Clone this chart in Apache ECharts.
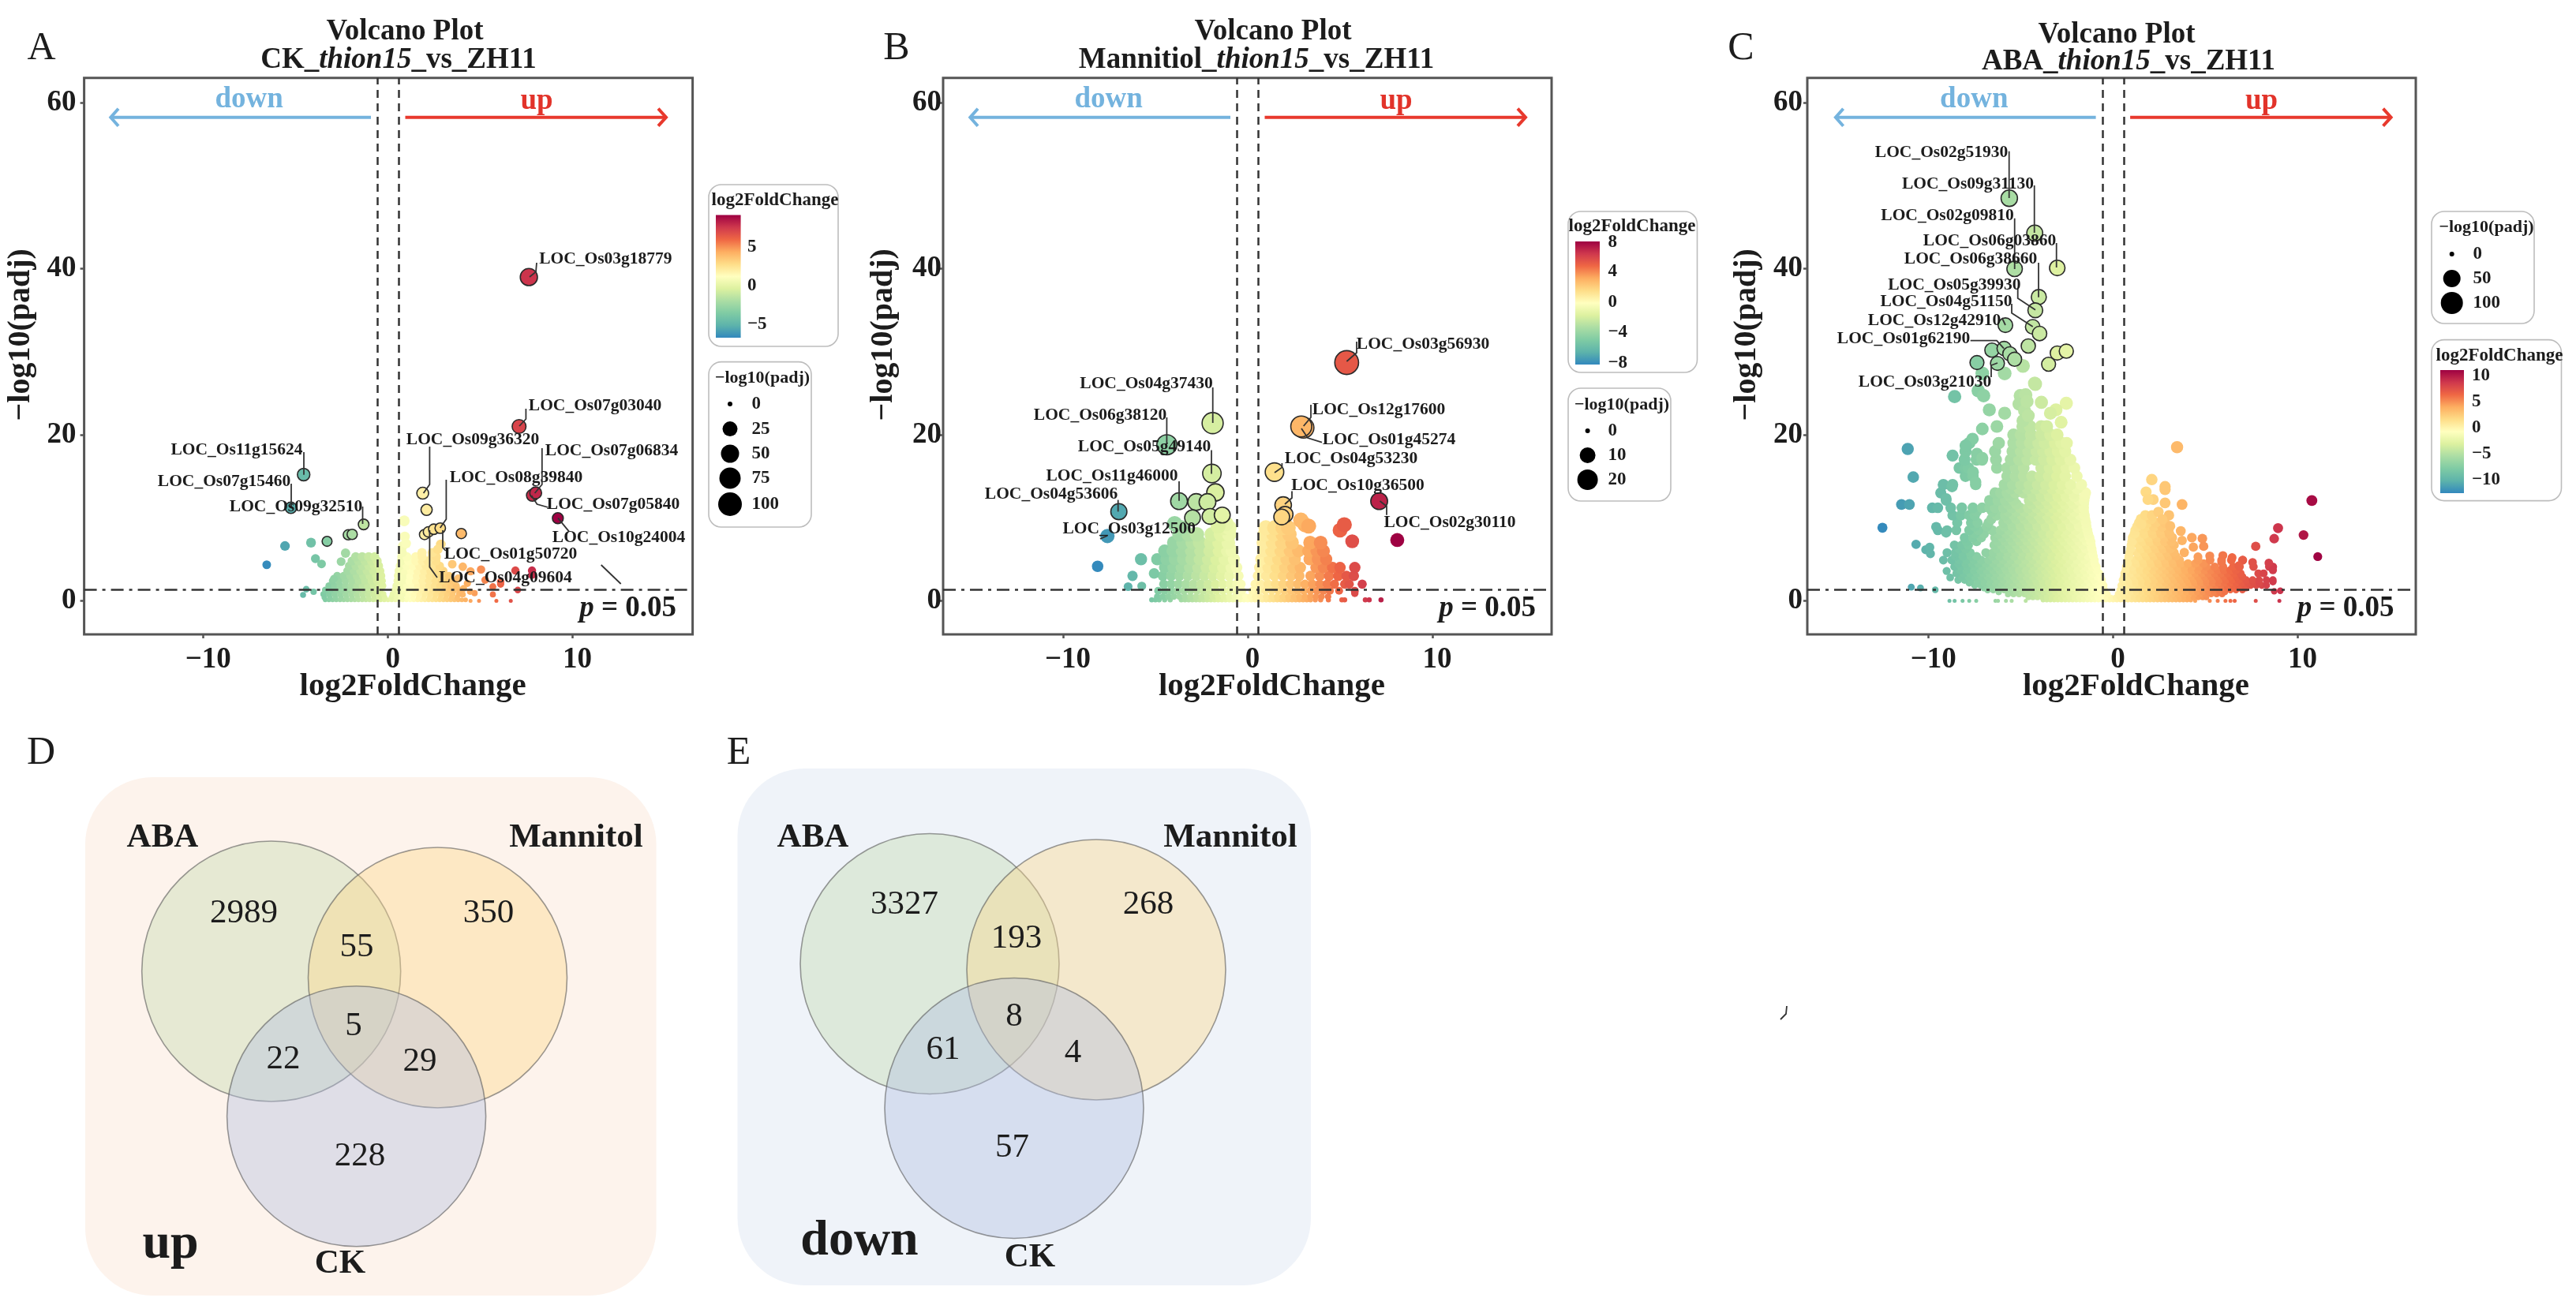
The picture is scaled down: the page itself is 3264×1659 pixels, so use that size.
<!DOCTYPE html>
<html><head><meta charset="utf-8">
<style>html,body{margin:0;padding:0;background:#fff}#c{width:3264px;height:1659px;filter:blur(0.6px)}</style>
<script src="https://cdn.jsdelivr.net/npm/echarts@6/dist/echarts.min.js"></script>
</head><body><div id="c"></div>
<script>
// ---------- Panel A: CK_thion15_vs_ZH11 ----------
const aRows = [
 [0.1,[-3.4,-3.2,-3,-2.8,-2.6,-2.4,-2.2,-2,-1.8,-1.6,-1.4,-1.2,-1,-.8,-.6,-.4,-.2,0,.2,.4,.6,.8,1,1.2,1.4,1.6,1.8,2,2.2,2.4,2.6,2.8,3,3.2,3.4,3.6,3.8,4,4.2]],
 [0.4,[-3.45,-3.15,-2.85,-2.55,-2.25,-1.95,-1.65,-1.35,-1.05,-.75,-.45,-.18,.18,.45,.75,1.05,1.35,1.65,1.95,2.25,2.55,2.85,3.15,3.45,3.75]],
 [0.8,[-3.5,-3.2,-2.9,-2.6,-2.3,-2,-1.7,-1.4,-1.1,-.8,-.5,-.25,.25,.5,.8,1.1,1.4,1.7,2,2.3,2.6,2.9,3.2,3.5,3.85]],
 [1.3,[-3.4,-3.1,-2.8,-2.5,-2.2,-1.9,-1.6,-1.3,-1,-.7,-.42,.36,.6,.9,1.2,1.5,1.8,2.1,2.4,2.7,3,3.3,3.6,3.9]],
 [1.8,[-3.2,-2.9,-2.6,-2.3,-2,-1.7,-1.4,-1.1,-.8,-.5,-.28,.43,.7,1,1.3,1.6,1.9,2.2,2.5,2.8,3.1,3.4,3.7]],
 [2.4,[-3,-2.65,-2.3,-1.95,-1.6,-1.25,-.9,-.6,-.32,.5,.8,1.15,1.5,1.85,2.2,2.55,2.9,3.25,3.5]],
 [3,[-2.75,-2.4,-2.05,-1.7,-1.35,-1,-.65,-.36,.53,.85,1.2,1.55,1.9,2.25,2.6,2.95,3.3]],
 [3.6,[-2.2,-1.85,-1.5,-1.15,-.8,-.42,.58,.9,1.25,1.6,1.95,2.3,2.65,3]],
 [4.2,[-2.1,-1.75,-1.4,-1.05,-.75,-.5,.65,1,1.35,1.7,2.05,2.4,2.8]],
 [4.8,[-1.95,-1.6,-1.25,-.9,-.58,.72,1.1,1.5,1.85,2.15,2.6]],
 [5.3,[-1.75,-1.4,-1.05,-.72,.75,1.02,1.5,1.85,2.4,2.62]],
];
const aExtra = [[-4.17,7],[-5.58,6.6],[-6.57,4.34],[-3.93,5.07],[-3.6,4.44],[-2.3,5.74],[-2.54,4.72],[-4.43,1.4],[-4.03,1.08],[-4.6,.7],[-2.93,2.66],
 [.88,9.63],[.91,7.73],[.8,6.6],[.98,6.9],[.77,5.8],[1.84,5.8],[2.4,5.8],[2.86,6.8],[2.7,6.2],[3.48,4.4],[4.05,4.1],[5.04,3.77],[4.47,3.55],[6.9,3.64],[7.8,3.64],[7.8,3.1],[5.68,1.7],[6.1,2],[6.1,2.3],[5.26,2.5],[5.68,.76],[4.69,.92],[4.05,.76],[4.93,0],[4.47,0],[5.87,0],[6.65,0],[7.03,1.3],[4.45,1.1],[4.1,1.5],[4.3,2.1],[3.8,2.7]];
const aMarked = [[7.63,39],[7.1,21],[-4.57,15.2],[-5.26,11.2],[-1.32,9.2],[-2.15,7.95],[-1.94,8],[-3.3,7.16],[1.88,12.96],[2.09,10.96],[1.98,7.98],[2.19,8.3],[2.48,8.62],[2.83,8.75],[3.97,8.1],[7.82,12.7],[8,13],[9.2,9.95]];

// ---------- Panel B: Mannitiol_thion15_vs_ZH11 ----------
const bRows = [
 [0.1,[-5.2,-5,-4.8,-4.5,-4.2,-3.6,-3.4,-3.2,-3,-2.8,-2.6,-2.4,-2.2,-2,-1.8,-1.6,-1.4,-1.2,-1,-.8,-.6,-.4,-.2,0,.2,.4,.6,.8,1,1.2,1.4,1.6,1.8,2,2.2,2.4,2.6,2.8,3,3.2,3.4,3.66,3.95,4.37,5.1,5.25,6.37,6.58,7.22]],
 [0.5,[-4.9,-4.6,-4.3,-4,-3.7,-3.4,-3.1,-2.8,-2.5,-2.2,-1.9,-1.6,-1.3,-1,-.7,-.4,-.12,.14,.4,.7,1,1.3,1.6,1.9,2.2,2.5,2.8,3.1,3.4,3.7,4,4.35]],
 [1.2,[-4.85,-4.5,-4.15,-3.8,-3.45,-3.1,-2.75,-2.4,-2.05,-1.7,-1.35,-1,-.65,-.3,.25,.6,.95,1.3,1.65,2,2.35,2.7,3.05,3.4,3.75,4.1,4.45,4.95,5.8]],
 [2,[-4.55,-4.15,-3.75,-3.35,-2.95,-2.55,-2.15,-1.75,-1.35,-.95,-.6,-.36,.4,.7,1.1,1.5,1.9,2.3,2.7,3.1,3.5,3.9,4.3,4.7,5.25,5.5,6.2]],
 [3,[-4.6,-4.15,-3.7,-3.25,-2.8,-2.35,-1.9,-1.45,-1,-.5,.55,1,1.45,1.9,2.35,2.8,3.4,3.9,4.4,4.9,5.35,5.75]],
 [4,[-4.5,-4.05,-3.6,-3.15,-2.7,-2.25,-1.8,-1.35,-.9,-.6,.65,1.1,1.55,2,2.45,2.85,3.7,4.1,4.6,5,5.8]],
 [5,[-4.9,-4.4,-3.95,-3.5,-3.05,-2.6,-2.15,-1.7,-1.25,-.75,.74,1.2,1.65,2.1,2.55,3.35,3.8,4.25]],
 [6,[-4.5,-4.05,-3.55,-3.05,-2.55,-2.05,-1.55,-1.1,-.85,.85,1.3,1.8,2.3,2.75,3.3,3.75,4.1]],
 [7,[-4,-3.5,-3,-2.6,-2,-1.55,-1.05,.85,1.35,1.85,2.4,3.38,3.95]],
 [8,[-3.7,-3.2,-2.75,-1.95,-1.45,-1,.92,1.4,1.9,2.26]],
 [8.8,[-1.3,-1,.98,1.45,1.9,2.2]],
];
const bExtra = [[-3.96,9.3],[-3.6,8.8],[-1.18,9.3],[-1.6,9],[-7.6,7.8],[8.1,7.32],[-8.13,4.15],[-5.78,5],[-6.24,3],[-5.07,3.3],[-6.48,1.7],[-5.74,1.77],[5,8.5],[5.23,9.16],[5.66,7.16],[3.1,9.16],[2.88,9.7],[3.3,9],[5.8,.9]];
const bMarked = [[5.36,28.7],[-1.9,21.4],[-4.38,18.8],[3.02,20.85],[2.9,21],[-1.94,15.34],[-1.75,13.05],[1.45,15.5],[-6.98,10.74],[-3.72,12],[-2.79,11.9],[-2.18,11.9],[-2.99,10],[-2.04,10.17],[-1.38,10.33],[1.92,11.53],[2.02,10.4],[1.84,10.1],[7.12,12]];

// ---------- Panel C: ABA_thion15_vs_ZH11 ----------
const cRows = [
 [0.08,[-3.8,-3.6,-3.4,-3.2,-3,-2.8,-2.6,-2.4,-2.2,-2,-1.8,-1.6,-1.4,-1.2,-1,-.8,-.6,-.4,-.2,0,.2,.4,.6,.8,1,1.2,1.4,1.6,1.8,2,2.2,2.4,2.6,2.8,3,3.2,3.4,3.6,3.8,4,4.2]],
 [0.4,[-4.6,-4.35,-4.1,-3.85,-3.6,-3.35,-3.1,-2.85,-2.6,-2.35,-2.1,-1.85,-1.6,-1.35,-1.1,-.85,-.6,-.35,-.12,.12,.35,.6,.85,1.1,1.35,1.6,1.85,2.1,2.35,2.6,2.85,3.1,3.35,3.6,3.85,4.1,4.35,4.6,4.85,5.05]],
 [0.8,[-5.7,-5.4,-5.1,-4.8,-4.5,-4.2,-3.9,-3.6,-3.3,-3,-2.7,-2.4,-2.1,-1.8,-1.5,-1.2,-.9,-.6,-.3,.25,.5,.8,1.1,1.4,1.7,2,2.3,2.6,2.9,3.2,3.5,3.8,4.1,4.4,4.7,5,5.3,5.6,5.9]],
 [1.05,[-6.2,-5.55,-5.25,-4.95,-4.65,-4.35,-4.05,-3.75,-3.45,-3.15,-2.85,-2.55,-2.25,-1.95,-1.65,-1.35,-1.05,-.75,-.42,.4,.65,.95,1.25,1.55,1.85,2.15,2.45,2.75,3.05,3.35,3.65,3.95,4.25,4.55,4.85,5.15,5.45,5.75,6.05]],
 [1.3,[-6.8,-6.5,-6.2,-5.9,-5.6,-5.3,-5,-4.7,-4.4,-4.1,-3.8,-3.5,-3.2,-2.9,-2.6,-2.3,-2,-1.7,-1.4,-1.1,-.8,-.45,.35,.65,.95,1.25,1.55,1.85,2.15,2.45,2.75,3.05,3.35,3.65,3.95,4.25,4.55,4.85,5.15,5.45,5.75,6.05,6.35,6.65,7]],
 [1.55,[-7,-6.65,-6.35,-6.05,-5.75,-5.45,-5.15,-4.85,-4.55,-4.25,-3.95,-3.65,-3.35,-3.05,-2.75,-2.45,-2.15,-1.85,-1.55,-1.25,-.95,-.65,.5,.8,1.1,1.4,1.7,2,2.3,2.6,2.9,3.2,3.5,3.8,4.1,4.4,4.7,5,5.3,5.6,5.9,6.2,6.5,6.8,7.2]],
 [1.85,[-7.5,-7.18,-6.86,-6.54,-6.22,-5.9,-5.58,-5.26,-4.94,-4.62,-4.3,-3.98,-3.66,-3.34,-3.02,-2.7,-2.38,-2.06,-1.74,-1.42,-1.1,-.78,-.5,.42,.74,1.06,1.38,1.7,2.02,2.34,2.66,2.98,3.3,3.62,3.94,4.26,4.58,4.9,5.22,5.54,5.86,6.18,6.5,6.82,7.14,7.45,7.75,8.05,8.3]],
 [2.15,[-7.8,-7.35,-7,-6.7,-6.38,-6.06,-5.74,-5.42,-5.1,-4.78,-4.46,-4.14,-3.82,-3.5,-3.18,-2.86,-2.54,-2.22,-1.9,-1.58,-1.26,-.94,-.58,.6,.9,1.22,1.54,1.86,2.18,2.5,2.82,3.14,3.46,3.78,4.1,4.42,4.74,5.06,5.38,5.7,6.02,6.34,6.66,6.98,7.3,7.6,7.9]],
 [2.5,[-8.4,-8.05,-7.7,-7.35,-7,-6.65,-6.3,-5.95,-5.6,-5.25,-4.9,-4.55,-4.2,-3.85,-3.5,-3.15,-2.8,-2.45,-2.1,-1.75,-1.4,-1.05,-.6,.5,.85,1.2,1.55,1.9,2.25,2.6,2.95,3.3,3.65,4,4.35,4.7,5.05,5.4,5.75,6.1,6.45,6.8,7.2,7.55,7.9,8.3,8.65]],
 [2.9,[-8.2,-7.85,-7.5,-7.15,-6.8,-6.45,-6.1,-5.75,-5.4,-5.05,-4.7,-4.35,-4,-3.65,-3.3,-2.95,-2.6,-2.25,-1.9,-1.55,-1.2,-.85,-.68,.58,.75,1.1,1.45,1.8,2.15,2.5,2.85,3.2,3.55,3.9,4.25,4.6,4.95,5.3,5.65,6,6.35,6.7,7]],
 [3.3,[-8.5,-8.1,-7.75,-7.4,-7.05,-6.7,-6.35,-6,-5.65,-5.3,-4.95,-4.6,-4.25,-3.9,-3.55,-3.2,-2.85,-2.5,-2.15,-1.8,-1.45,-1.1,-.75,.6,.95,1.3,1.65,2,2.35,2.7,3.05,3.4,3.75,4.1,4.45,4.8,5.15,5.5,5.85,6.2,6.55,6.9,7.86,8.15]],
 [3.7,[-8.3,-7.95,-7.55,-7.2,-6.85,-6.5,-6.15,-5.8,-5.45,-5.1,-4.75,-4.4,-4.05,-3.7,-3.35,-3,-2.65,-2.3,-1.95,-1.6,-1.25,-.9,.68,1.1,1.45,1.8,2.15,2.5,2.85,3.2,3.55,3.9,4.25,4.6,4.95,5.3,5.65,6,6.35,6.65]],
 [4.1,[-8.6,-8.25,-7.9,-7.5,-7.1,-6.7,-6.3,-5.9,-5.5,-5.1,-4.7,-4.3,-3.9,-3.5,-3.1,-2.7,-2.3,-1.9,-1.5,-1.15,-.9,.7,1.05,1.45,1.85,2.25,2.65,3.05,3.45,3.85,4.25,4.65,5.05,5.5,5.95,6.5,6.85,7.6,8.45,8.65]],
 [4.5,[-8.4,-8,-7.65,-7.3,-6.9,-6.5,-6.1,-5.7,-5.3,-4.9,-4.5,-4.1,-3.7,-3.3,-2.9,-2.5,-2.1,-1.7,-1.35,-1,.78,1.25,1.65,2.05,2.45,2.85,3.25,3.65,4.05,4.45,4.9]],
 [4.9,[-9.2,-8.75,-8.35,-7.95,-7.55,-7.15,-6.75,-6.35,-5.95,-5.55,-5.15,-4.75,-4.35,-3.95,-3.55,-3.15,-2.75,-2.35,-1.95,-1.55,-1.02,.8,1.2,1.6,2,2.4,2.8,3.2,3.6,4.6,5.25,5.87,6.4,7.02]],
 [5.35,[-8.55,-8.15,-7.7,-7.4,-6.55,-6.15,-5.75,-5.35,-4.95,-4.55,-4.15,-3.75,-3.35,-2.95,-2.55,-2.15,-1.75,-1.35,-1.07,.85,1.4,1.8,2.2,2.6,3,3.4]],
 [5.8,[-9,-8.55,-8.15,-7.75,-6.9,-6.5,-6.1,-5.7,-5.3,-4.9,-4.5,-4.1,-3.7,-3.3,-2.9,-2.5,-2.1,-1.7,-1.12,.9,1.3,1.7,2.1,2.5,2.9,3.3,3.85]],
 [6.25,[-8.35,-8,-6.3,-5.9,-5.5,-5.1,-4.7,-4.3,-3.9,-3.5,-3.1,-2.7,-2.3,-1.9,-1.5,-1.15,.95,1.5,1.9,2.3,2.7,3.1]],
 [6.7,[-8.6,-8.2,-7.85,-6.45,-6.05,-5.65,-5.25,-4.85,-4.45,-4.05,-3.65,-3.25,-2.85,-2.45,-2.05,-1.65,-1.2,.98,1.4,1.8,2.2,2.6,3,3.3]],
 [7.15,[-7.95,-7.4,-6.25,-5.85,-5.45,-5.05,-4.65,-4.25,-3.85,-3.45,-3.05,-2.65,-2.25,-1.85,-1.45,-1.22,1.02,1.6,2,2.4,2.8,3.15]],
 [7.6,[-8.05,-7.6,-7.15,-6.4,-6,-5.6,-5.2,-4.8,-4.4,-4,-3.6,-3.2,-2.8,-2.4,-2,-1.6,-1.28,1.05,1.45,1.9,2.35,2.8,3.2]],
 [8.05,[-7.5,-7,-6.2,-5.8,-5.4,-5,-4.6,-4.2,-3.8,-3.4,-3,-2.6,-2.2,-1.8,-1.35,1.15,1.7,2.15,2.6,3.05]],
 [8.5,[-9.5,-9,-8.5,-7.8,-7.3,-6.55,-6.1,-5.65,-5.2,-4.75,-4.3,-3.85,-3.4,-2.95,-2.5,-2.05,-1.4,1.2,1.65,2.1,2.55,3]],
 [8.95,[-7.5,-6.85,-5.9,-5.45,-5,-4.55,-4.1,-3.65,-3.2,-2.75,-2.3,-1.85,-1.45,1.3,1.75,2.2,2.65]],
 [9.4,[-8.45,-7.7,-7.35,-6.75,-5.95,-5.5,-5.05,-4.6,-4.15,-3.7,-3.25,-2.8,-2.35,-1.9,-1.47,1.4,1.85,2.3,2.8]],
 [9.85,[-6.6,-5.7,-5.25,-4.8,-4.35,-3.9,-3.45,-3,-2.55,-2.1,-1.52,1.5,2.05]],
 [10.3,[-8.7,-8.25,-7.8,-7.5,-6.3,-5.85,-5.4,-4.95,-4.5,-4.05,-3.6,-3.15,-2.7,-2.25,-1.8,-1.55,1.74,2.1,3.02]],
 [10.75,[-7.4,-6.55,-5.7,-5.25,-4.8,-4.35,-3.9,-3.45,-3,-2.55,-2.1,-1.6]],
 [11.2,[-9.8,-9.5,-8.8,-8.2,-7.6,-7.1,-6.7,-6.4,-5.95,-5.5,-5.05,-4.6,-4.15,-3.7,-3.25,-2.8,-2.35,-1.9,-1.6]],
 [11.65,[-5.7,-5.25,-4.4,-3.95,-3.5,-3.05,-2.6,-2.15,-1.6]],
 [12.1,[-9.05,-6.7,-6.25,-5.85,-5.4,-4.55,-4.1,-3.65,-3.2,-2.75,-2.3,-1.85,-1.58]],
 [12.55,[-5.6,-4.35,-3.9,-3.45,-3,-2.55,-2.1,-1.55]],
 [13,[-9.34,-6.4,-6.1,-5.75,-5.3,-4.85,-4.4,-3.95,-3.5,-3.05,-2.6,-2.15,-1.5]],
 [13.5,[-5.55,-5.1,-4.65,-4.2,-3.75,-3.3,-2.85,-2.4,-1.95]],
 [14,[-9.2,-8.7,-7.45,-5.9,-5.45,-5,-4.55,-4.1,-3.65,-3.2,-2.75,-2.3,-1.72]],
 [15,[-8,-7.6,-5.75,-5.3,-4.85,-4.4,-3.95,-3.5,-3.05,-2.6,-1.97]],
 [16,[-8.33,-8,-7.85,-6.3,-5.75,-5.3,-4.85,-3.9,-3.45,-3,-2.55,-2.1]],
 [17,[-8.05,-7.4,-7.1,-6.35,-5.55,-5.1,-4.65,-4.2,-3.75,-3.3,-2.85,-2.32]],
 [18,[-8.0,-6.4,-5.45,-5,-4.6,-4.15,-3.8,-3.4,-3,-2.6]],
 [19,[-7.8,-6.2,-5.4,-4.95,-4.5,-4.05,-3.7,-3.15,-2.8,-2.52]],
 [20,[-5.4,-5,-4.45,-3.89,-3.4,-3.03]],
 [21,[-6.3,-4.9,-4.5,-3.9,-3.6]],
];
const cExtra = [[-5.88,27.4],[-4.89,28.3],[-4.22,26.1],[-8.59,24.6],[-7.31,25.3],[-7.09,27.4],[-7.02,24.7],[-6.71,23],[-5.88,22.6],[-7.09,20.7],[-7.62,19.5],[-7.99,18.7],[-8.7,17.5],[-7.38,17.7],[-7.09,17.2],[-7.59,15.5],[-7.45,14.3],[-8.73,13.75],[-9.05,12.3],[-11.13,18.3],[-10.83,14.9],[-11.47,11.6],[-11.04,11.6],[-12.5,8.8],[-10.68,6.8],[-10.15,6.15],[-9.94,6.45],[-9.9,5.67],[-9.02,3.6],[-8.83,2.8],[-10.94,1.65],[-10.44,1.55],[-9.64,1.33],[-9.59,8.9],[-9.05,8.2],
 [-8.87,0],[-8.59,0],[-8.16,0],[-7.8,0],[-7.42,0],[-6.38,0],[-6.24,0],[-5.81,0],[-5.5,0],[-4.74,0],
 [-5.03,24.7],[-4.74,24.8],[-5.1,23.7],[-4.8,22.9],[-4.67,24],[-3.89,23.9],[-4.25,26.2],[-2.54,23.8],[-3.1,23],[-2.82,21.5],[-3.4,22.6],[-4.89,21.7],[-4.6,22.3],
 [3.46,18.5],[2.09,14.6],[2.81,13.75],[2.81,13.4],[1.78,13.1],[2.81,11.8],[3.73,11.6],[2.17,12.2],[1.88,12.2],[2.45,10.7],[2.66,9.8],[1.52,9.2],[3.09,9],[3.66,8.4],[4.26,7.6],[4.83,7.5],[3.73,7.26],[4.34,6.46],[4.9,6.56],[3.85,5.83],[4.59,5.3],[5.23,5.4],[5.94,5.45],[6.44,5.2],[5.87,4.66],[7,4.88],[6.8,4.25],[7.55,4.63],[7.72,6.56],[8.72,7.48],[8.93,8.75],[10.31,7.92],[10.76,12.07],[11.08,5.32],[8.43,4.56],[8.65,3.7],[8.65,2.3],[8.72,1.14],[9.05,1.2],[9,0],[7.72,0],[6.58,0],[6.35,0],[6.08,0],[5.66,0],[5.23,0],[4.44,0]];
const cMarked = [[-5.63,48.5],[-4.25,44.3],[-3.03,40.1],[-5.34,40],[-4.03,36.6],[-4.22,35],[-5.84,33.2],[-4.36,33],[-3.99,32.2],[-4.6,30.7],[-6.57,30.2],[-5.91,30.4],[-5.6,29.75],[-5.34,29.1],[-7.38,28.7],[-6.27,28.6],[-3.5,28.5],[-3.03,29.85],[-2.54,30.07]];

// ---------- tick labels and legend values ----------
const xTicks = [-10,0,10];
const yTicks = [0,20,40,60];
const panelTitles = [['CK_','_vs_ZH11'],['Mannitiol_','_vs_ZH11'],['ABA_','_vs_ZH11']];
const colorTicks = [[-5,0,5],[-8,-4,0,4,8],[-10,-5,0,5,10]];
const sizeTicks = [[0,25,50,75,100],[0,10,20],[0,50,100]];
const colorRange = [[-6.7,9.1],[-8.2,8.1],[-12.6,11.2]];
const pThreshold = 1.3;
const fcThreshold = 0.585;

// ---------- gene annotation names ----------
const aGenes = ['LOC_Os03g18779','LOC_Os07g03040','LOC_Os09g36320','LOC_Os07g06834','LOC_Os11g15624','LOC_Os07g15460','LOC_Os08g39840','LOC_Os09g32510','LOC_Os07g05840','LOC_Os10g24004','LOC_Os01g50720','LOC_Os04g09604'];
const bGenes = ['LOC_Os03g56930','LOC_Os04g37430','LOC_Os12g17600','LOC_Os06g38120','LOC_Os01g45274','LOC_Os05g49140','LOC_Os04g53230','LOC_Os11g46000','LOC_Os10g36500','LOC_Os04g53606','LOC_Os02g30110','LOC_Os03g12500'];
const cGenes = ['LOC_Os02g51930','LOC_Os09g31130','LOC_Os02g09810','LOC_Os06g03860','LOC_Os06g38660','LOC_Os05g39930','LOC_Os04g51150','LOC_Os12g42910','LOC_Os01g62190','LOC_Os03g21030'];

// ---------- Venn counts ----------
const vennUp = [2989,350,55,5,22,29,228];
const vennDown = [3327,268,193,8,61,4,57];
const vennSets = ['ABA','Mannitol','CK'];

// ---------- layout & style (not data) ----------
const F='"Liberation Serif","Times New Roman",serif', INK='#1c1c1c', AX='#555';
const flat = rows => rows.flatMap(r => r[1].map(x => [x, r[0]]));
const minus = v => String(v).replace('-','\u2212');
const ramp = ['#3288BD','#5DB3AB','#7FCBA4','#ABDDA4','#DDF1A0','#FFFFBF','#FEDD88','#FDAE61','#EF6744','#CF384D','#9E0142'];
const sizeFn = [y=>5+3*Math.pow(Math.max(y,0),.47), y=>5+4.7*Math.sqrt(Math.max(y,0)), y=>5+3.1*Math.pow(Math.max(y,0),.42)];
const panels = [
 {left:106.6,xr:[-16.46,16.5], cloud:flat(aRows).concat(aExtra), marked:aMarked, lbl:10},
 {left:1195, xr:[-16.5,16.46], cloud:flat(bRows).concat(bExtra), marked:bMarked, lbl:2},
 {left:2290, xr:[-16.57,16.39],cloud:flat(cRows).concat(cExtra), marked:cMarked, lbl:6},
];
const TOP=98.7,W=771,H=705.3;
const grid=[],xAxis=[],yAxis=[],series=[],visualMap=[],title=[];
const titleCenters=[[508,36,500,72.4],[1608,36,1587,72.4],[2677,39.5,2692,74]];
panels.forEach((p,i)=>{
  grid.push({left:p.left,top:TOP,width:W,height:H,outerBoundsMode:'none',containLabel:false,show:true,borderColor:AX,borderWidth:3,backgroundColor:'transparent'});
  xAxis.push({type:'value',gridIndex:i,min:p.xr[0],max:p.xr[1],splitLine:{show:false},
    name:'log2FoldChange',nameLocation:'middle',nameGap:46,nameMoveOverlap:false,
    nameTextStyle:{fontFamily:F,fontWeight:'bold',fontSize:41,color:INK,padding:[0,0,0,62]},
    axisLine:{show:false,onZero:false},axisTick:{show:true,length:5,lineStyle:{color:AX,width:2.5},customValues:xTicks},
    axisLabel:{fontFamily:F,fontWeight:'bold',fontSize:37,color:INK,margin:14,padding:[0,0,0,12],customValues:xTicks,formatter:minus,showMinLabel:true,showMaxLabel:true}});
  yAxis.push({type:'value',gridIndex:i,min:-4.05,max:63,splitLine:{show:false},
    name:'\u2212log10(padj)',nameLocation:'middle',nameGap:[60,55,56.5][i],nameRotate:90,nameMoveOverlap:false,
    nameTextStyle:{fontFamily:F,fontWeight:'bold',fontSize:40,color:INK,padding:[0,0,0,54]},
    axisLine:{show:false,onZero:false},axisTick:{show:true,length:5,lineStyle:{color:AX,width:2.5},customValues:yTicks},
    axisLabel:{fontFamily:F,fontWeight:'bold',fontSize:37,color:INK,margin:p.lbl,customValues:yTicks,formatter:minus}});
  const base={type:'scatter',xAxisIndex:i,yAxisIndex:i,symbol:'circle',silent:true,animation:false,symbolSize:d=>sizeFn[i](d[1])};
  series.push(Object.assign({},base,{name:'genes'+i,data:p.cloud,z:2,itemStyle:{opacity:1}}));
  series.push(Object.assign({},base,{name:'labelled'+i,data:p.marked,z:3,itemStyle:{opacity:1,borderColor:'#2a2a2a',borderWidth:1.6},
    markLine:{silent:true,symbol:'none',z:6,animation:false,label:{show:false},data:[
      {xAxis:-fcThreshold,lineStyle:{type:[10,7],color:'#333',width:2.5}},
      {xAxis:fcThreshold,lineStyle:{type:[10,7],color:'#333',width:2.5}},
      {yAxis:pThreshold,lineStyle:{type:[16,7,4,7],color:'#333',width:2.5}}]}}));
  visualMap.push({show:false,type:'continuous',seriesIndex:[i*2,i*2+1],dimension:0,min:colorRange[i][0],max:colorRange[i][1],inRange:{color:ramp}});
  const c=titleCenters[i];
  title.push({text:'Volcano Plot',left:c[0],top:c[1]-19,textAlign:'center',textStyle:{fontFamily:F,fontWeight:'bold',fontSize:37,color:INK}});
  title.push({text:panelTitles[i][0]+'{it|thion15}'+panelTitles[i][1],left:c[2],top:c[3]-19,textAlign:'center',
    textStyle:{fontFamily:F,fontWeight:'bold',fontSize:37,color:INK,rich:{it:{fontFamily:F,fontStyle:'italic',fontWeight:'bold',fontSize:37,color:INK}}}});
});

// ---------- graphic annotations ----------
const g=[];
const txt=(text,x,y,size,opt={})=>g.push({type:'text',z:20,silent:true,style:Object.assign({text,x,y,font:`${opt.weight||'bold'} ${size}px ${F}`,fill:opt.fill||INK,textAlign:opt.align||'center',textVerticalAlign:'middle'},opt.style||{})});
const poly=(pts,color='#333',w=1.8)=>g.push({type:'polyline',z:19,silent:true,shape:{points:pts},style:{stroke:color,lineWidth:w,fill:'none'}});

// panel letters
[['A',52.6,62],['B',1136,62],['C',2206,62],['D',52,955],['E',936,955]].forEach(a=>txt(a[0],a[1],a[2],50,{weight:'normal'}));

// down / up arrows and p text
[0,1089,2185.6].forEach((dx,i)=>{
  const yA=148.7, blue='#74B3DE', red='#E8392D';
  poly([[470+dx,yA],[140.3+dx,yA]],blue,4);
  poly([[150+dx,yA-11],[140.3+dx,yA],[150+dx,yA+11]],blue,4);
  poly([[513.5+dx,yA],[844+dx,yA]],red,4);
  poly([[834+dx,yA-11],[844+dx,yA],[834+dx,yA+11]],red,4);
  txt('down',315.7+dx,126,37,{fill:'#74B3DE'});
  txt('up',680+dx,128,37,{fill:'#E2332A'});
  g.push({type:'text',z:20,silent:true,style:{text:'{i|p} = 0.05',x:857+dx-[0,0,9][i],y:771,textAlign:'right',textVerticalAlign:'middle',font:`bold 37px ${F}`,fill:INK,rich:{i:{font:`italic bold 37px ${F}`,fill:INK}}}});
});

// gene labels (pixel placement of the text) and leader lines
const aPos=[[767.4,328],[754,514.5],[599,557],[775,571.6],[300,570],[284,610],[654,605.6],[375,642],[777,639],[784,681],[647,702.7],[640.5,732]];
const bPos=[[1803,436.6],[1452.5,486],[1747,519],[1394,526],[1760,557],[1450,566.6],[1712,581.5],[1409,603.4],[1720.5,615.5],[1332,626.4],[1837,662.6],[1430.7,670]];
const cPos=[[2460,193],[2493.5,233.7],[2467.5,273],[2521,305.5],[2497,328.6],[2476.4,361],[2466,382],[2451,406],[2412,429.5],[2439,484]];
aGenes.forEach((t,i)=>txt(t,aPos[i][0],aPos[i][1],21.5));
bGenes.forEach((t,i)=>txt(t,bPos[i][0],bPos[i][1],21.5));
cGenes.forEach((t,i)=>txt(t,cPos[i][0],cPos[i][1],21.5));
[
 [[680,333],[679,344.5],[671,351]],[[666.4,518],[666.4,531],[658,540]],[[544.4,566],[544.4,614],[536.6,625]],[[686.8,568],[686.8,614],[677.6,625]],
 [[385,573],[385,601.8]],[[369,613],[369,643]],[[565.4,608],[565.4,658],[557.7,669]],[[459.5,642],[459.5,664]],[[673.4,628],[680.5,639],[694.5,643]],
 [[707,656.6],[721,673.6]],[[561,672],[561,694],[564.7,698]],[[544.4,672],[544.4,718.6],[554,732]],[[761.7,716],[786.7,740]],
 [[1719,433],[1719,447],[1706.4,458]],[[1536.7,491],[1536.7,536]],[[1661,513],[1661,529],[1651.7,540]],[[1478.4,529],[1478.4,563]],[[1675,560.6],[1657,555],[1649,543]],
 [[1535,570.5],[1535,600.6]],[[1624.4,587],[1624.4,592.4],[1615,599]],[[1494,610],[1494,634.7]],[[1637,622.6],[1637,631],[1628,639]],[[1416.7,633.6],[1416.7,648.4]],
 [[1757,652.8],[1757,641.8],[1748.5,635]],[[1394,683],[1403,679]],
 [[2545.7,191.7],[2545.7,251]],[[2577.7,235],[2577.7,295]],[[2552.7,276.7],[2552.7,341]],[[2605.7,308],[2605.7,339]],[[2583,333],[2583,376.7]],
 [[2556.7,365],[2556.7,378],[2579,392.7]],[[2549,385],[2549,396.7],[2575.7,414]],[[2536.7,403],[2541,412]],[[2496.7,431.7],[2530,431.7],[2539,441.7]],[[2523,478],[2523,463],[2531,460]],
 [[2264,1275],[2263,1285],[2256,1292]]
].forEach(p=>poly(p));

// legends
const box=(x,y,w,h)=>g.push({type:'rect',z:10,silent:true,shape:{x,y,width:w,height:h,r:16},style:{fill:'#fff',stroke:'#bdbdbd',lineWidth:1.6}});
const stops=ramp.map((c,i)=>({offset:i/(ramp.length-1),color:c}));
const colorLegend=(i,bx,by,bw,bh,tx,ty,bar,labX,labY)=>{
  box(bx,by,bw,bh);
  txt('log2FoldChange',tx,ty,23);
  g.push({type:'rect',z:11,silent:true,shape:{x:bar[0],y:bar[1],width:bar[2],height:bar[3]},style:{fill:new echarts.graphic.LinearGradient(0,1,0,0,stops)}});
  colorTicks[i].forEach((v,k)=>txt(minus(v),labX,labY[k],23,{align:'left'}));
};
const sizeLegend=(i,bx,by,bw,bh,tx,ty,dotX,labX,labY)=>{
  box(bx,by,bw,bh);
  txt('\u2212log10(padj)',tx,ty,22);
  sizeTicks[i].forEach((v,k)=>{
    const d=i==0?[6,19,23,27,30][k]:i==1?[6,20,26][k]:[6,22,28][k];
    g.push({type:'circle',z:11,silent:true,shape:{cx:dotX,cy:labY[k],r:d/2},style:{fill:'#000'}});
    txt(String(v),labX,labY[k],23,{align:'left'});
  });
};
colorLegend(0,898,234,164,205,982,254,[907,272.6,31.6,155.4],947,[411,362,313]);
sizeLegend(0,898,458.6,130,209.4,966,479,925,952.6,[512,543.6,575,606,639]);
colorLegend(1,1987,268,163.5,204,2068,287,[1996,306,31,156],2037.5,[460,421,383,344.5,307]);
sizeLegend(1,1987,492,130,143,2055,513,2011.6,2037.5,[546,577,608]);
sizeLegend(2,3081,268,130,142,3150.5,288,3106.7,3133.4,[322,353,384]);
colorLegend(2,3081,430.6,164.5,204,3167,451,[3092,469,30,156],3132,[608,575,542,509,476]);

// Venn panels
const venn=(bg,circles,counts,labels,word,bgColor)=>{
  g.push({type:'rect',z:1,silent:true,shape:{x:bg[0],y:bg[1],width:bg[2],height:bg[3],r:85},style:{fill:bgColor}});
  const fills=['rgba(195,218,176,.4)','rgba(253,215,138,.4)','rgba(178,190,226,.4)'];
  circles.forEach((c,k)=>g.push({type:'ellipse',z:2,silent:true,shape:{cx:c[0],cy:c[1],rx:164,ry:165},style:{fill:fills[k],stroke:'rgba(90,90,90,.6)',lineWidth:1.6}}));
  counts.forEach(c=>txt(String(c[0]),c[1],c[2],43,{weight:'normal'}));
  labels.forEach(c=>txt(c[0],c[1],c[2],43));
  txt(word[0],word[1],word[2],64);
};
venn([108,985,723.6,657],[[343.7,1231],[554.5,1239],[451.6,1414.8]],
  [[vennUp[0],309,1158],[vennUp[1],619,1158],[vennUp[2],452,1201],[vennUp[3],448,1301],[vennUp[4],359,1342.5],[vennUp[5],532,1345.6],[vennUp[6],456,1466]],
  [[vennSets[0],206,1062],[vennSets[1],730,1062],[vennSets[2],431,1602]],['up',216,1577],'#FDF3EC');
venn([934.5,974,726.5,655],[[1178,1221.5],[1389,1229],[1285,1404.5]],
  [[vennDown[0],1146,1147],[vennDown[1],1455,1147],[vennDown[2],1288,1190],[vennDown[3],1285,1289],[vennDown[4],1195,1331],[vennDown[5],1359.5,1335],[vennDown[6],1282.5,1455]],
  [[vennSets[0],1030,1062],[vennSets[1],1559,1062],[vennSets[2],1305,1594]],['down',1089,1573],'#EFF3F9');

const chart=echarts.init(document.getElementById('c'),null,{renderer:'canvas',width:3264,height:1659});
chart.setOption({animation:false,backgroundColor:'#fff',title,grid,xAxis,yAxis,visualMap,series,graphic:{elements:g}});
</script></body></html>
